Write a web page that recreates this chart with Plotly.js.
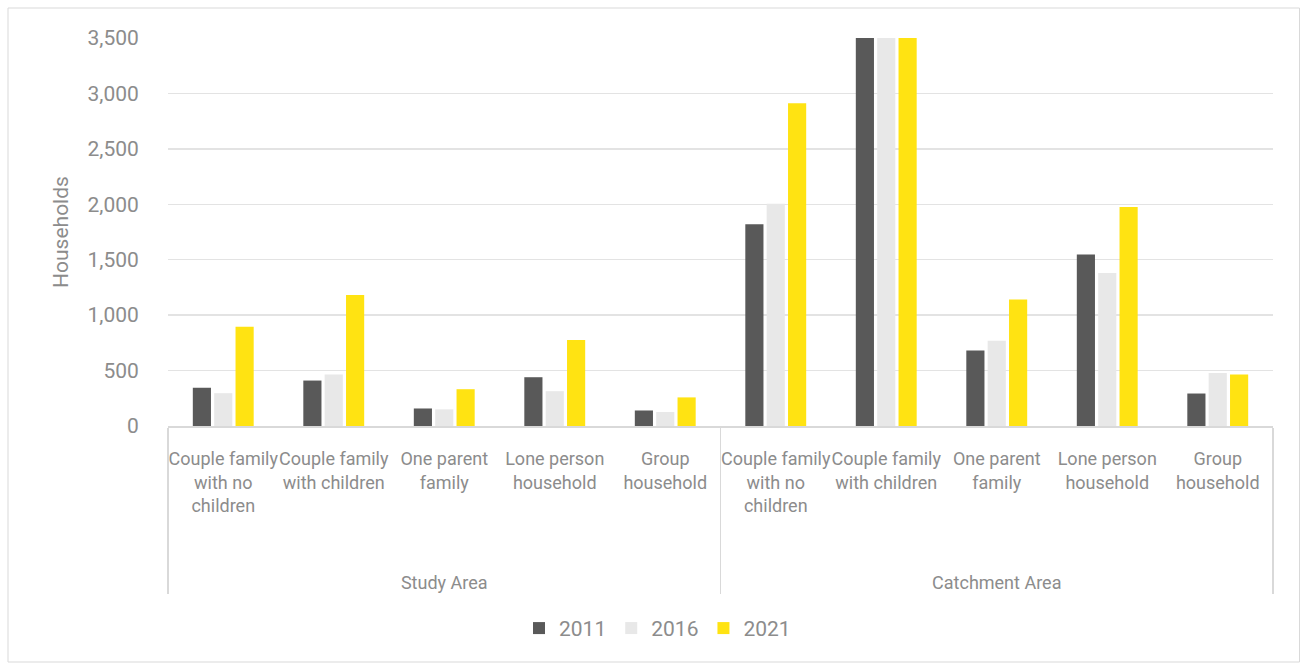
<!DOCTYPE html>
<html>
<head>
<meta charset="utf-8">
<script src="https://cdn.plot.ly/plotly-3.0.1.min.js"></script>
<style>
html,body{margin:0;padding:0;background:#fff;}
#chart{width:1302px;height:665px;}
</style>
</head>
<body>
<div id="chart"></div>
<script>
const areas = ["Study Area","Study Area","Study Area","Study Area","Study Area",
               "Catchment Area","Catchment Area","Catchment Area","Catchment Area","Catchment Area"];
const householdTypes = ["Couple family<br>with no<br>children<br>\u00a0<br>\u00a0<br>\u00a0","Couple family<br>with children","One parent<br>family","Lone person<br>household","Group<br>household",
                        "Couple family<br>with no<br>children<br>\u00a0<br>\u00a0<br>\u00a0","Couple family<br>with children","One parent<br>family","Lone person<br>household","Group<br>household"];
const v2011 = [345, 410, 158, 440, 140, 1820, 3820, 680, 1547, 293];
const v2016 = [296, 464, 150, 314, 126, 2005, 3900, 770, 1380, 477];
const v2021 = [895, 1182, 332, 776, 258, 2912, 4580, 1142, 1975, 465];
const yearNames = ["2011","2016","2021"];
const yTicks = [0,500,1000,1500,2000,2500,3000,3500];

const FONT = 'Roboto, sans-serif';
const TXT = '#8c8c8c';
const colors = ['#595959','#e8e8e8','#ffe312'];
const series = [v2011, v2016, v2021];

const traces = series.map((vals, i) => ({
  type: 'bar',
  name: yearNames[i],
  x: [areas, householdTypes],
  y: vals,
  marker: {color: colors[i]},
  hoverinfo: 'y'
}));

const layout = {
  width: 1302, height: 665,
  margin: {l: 168, r: 29, t: 38, b: 239},
  paper_bgcolor: '#fff', plot_bgcolor: '#fff',
  font: {family: FONT, color: TXT, size: 18},
  barmode: 'group',
  bargap: 0.42,
  bargroupgap: 0.15,
  showlegend: true,
  legend: {orientation: 'h', x: 0.505, xanchor: 'center', xref: 'container', y: 0.055, yref: 'container', yanchor: 'middle',
           font: {size: 21, color: TXT}, itemwidth: 30, traceorder: 'normal'},
  xaxis: {
    type: 'multicategory',
    tickangle: 0,
    ticklabelstandoff: 16,
    showline: true, linecolor: '#d9d9d9', linewidth: 1.5,
    showdividers: true, dividercolor: '#d9d9d9', dividerwidth: 1.5,
    ticks: '', tickfont: {size: 18, color: TXT},
    showgrid: false
  },
  yaxis: {
    range: [0, 3500],
    tickvals: yTicks,
    tickformat: ',d',
    showgrid: true, gridcolor: '#e3e3e3', gridwidth: 1.5,
    zeroline: false, showline: false,
    ticks: 'outside', ticklen: 24, tickcolor: 'rgba(0,0,0,0)',
    tickfont: {size: 21, color: TXT},
    title: {text: 'Households', font: {size: 21, color: TXT}, standoff: 13}
  },
  shapes: [{
    type: 'rect', xref: 'paper', yref: 'paper',
    x0: -160/1105, x1: 1299.5/1105 - 168/1105, y0: (426-662)/388, y1: (426-8)/388,
    line: {color: '#d9d9d9', width: 1}, fillcolor: 'rgba(0,0,0,0)', layer: 'below'
  }]
};

Plotly.newPlot('chart', traces, layout, {displayModeBar: false, staticPlot: true});
</script>
</body>
</html>
